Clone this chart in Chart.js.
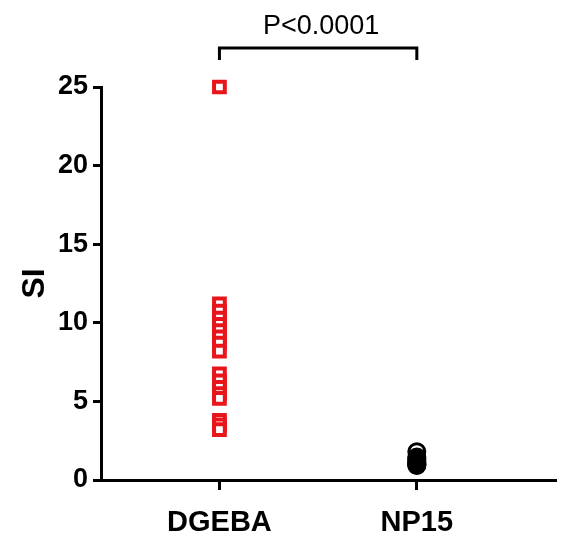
<!DOCTYPE html>
<html>
<head>
<meta charset="utf-8">
<script src="https://cdn.jsdelivr.net/npm/chart.js@4/dist/chart.umd.min.js"></script>
<style>
  html, body { margin: 0; padding: 0; background: #fff; }
  #wrap { width: 574px; height: 542px; }
</style>
</head>
<body>
<div id="wrap"><canvas id="c" width="574" height="542"></canvas></div>
<script>
const categories = ["DGEBA", "NP15"];
const dgebaValues = [25.0, 11.2, 10.75, 10.3, 9.9, 9.5, 9.1, 8.7, 8.2, 6.75, 6.3, 5.9, 5.5, 5.2, 3.8, 3.5, 3.2];
const np15Values = [1.8, 1.46, 1.35, 1.25, 1.15, 1.05, 1.0, 0.95, 0.92];
const yTicks = [0, 5, 10, 15, 20, 25];
const pLabel = "P<0.0001";
const yTitle = "SI";

const FONT = "'Liberation Sans', Arial, sans-serif";

const bracketPlugin = {
  id: 'bracket',
  afterDraw(chart) {
    const ctx = chart.ctx;
    const xs = chart.scales.x;
    const x1 = xs.getPixelForValue(1);
    const x2 = xs.getPixelForValue(2);
    const yLine = 48;
    const yEnd = 60;
    ctx.save();
    ctx.strokeStyle = '#000';
    ctx.lineWidth = 3;
    ctx.lineCap = 'butt';
    ctx.beginPath();
    ctx.moveTo(x1, yEnd);
    ctx.lineTo(x1, yLine);
    ctx.lineTo(x2, yLine);
    ctx.lineTo(x2, yEnd);
    ctx.stroke();
    ctx.fillStyle = '#000';
    ctx.font = "27px " + FONT;
    ctx.textAlign = 'center';
    ctx.textBaseline = 'alphabetic';
    ctx.fillText(pLabel, (x1 + x2) / 2 + 3, 34);
    ctx.restore();
  }
};

new Chart(document.getElementById('c'), {
  type: 'scatter',
  data: {
    datasets: [
      {
        label: categories[0],
        data: dgebaValues.map(v => ({ x: 1, y: v })),
        pointStyle: 'rect',
        pointRadius: 7.6,
        pointBorderWidth: 4,
        pointBorderColor: '#e8151b',
        pointBackgroundColor: '#ffffff',
        clip: false
      },
      {
        label: categories[1],
        data: np15Values.map(v => ({ x: 2, y: v })),
        pointStyle: 'circle',
        pointRadius: 8,
        pointBorderWidth: 3,
        pointBorderColor: '#000000',
        pointBackgroundColor: np15Values.map((v, i) => i === 0 ? '#ffffff' : '#000000'),
        clip: false
      }
    ]
  },
  options: {
    responsive: false,
    animation: false,
    devicePixelRatio: 1,
    layout: { padding: { top: 87, right: 19, left: 0, bottom: 0 } },
    plugins: { legend: { display: false }, tooltip: { enabled: false } },
    scales: {
      x: {
        type: 'linear',
        min: 0.4,
        max: 2.7,
        afterBuildTicks(scale) { scale.ticks = [{ value: 1 }, { value: 2 }]; },
        afterFit(scale) { scale.height = 62; },
        grid: { drawOnChartArea: false, drawTicks: true, tickLength: 10, color: '#000', lineWidth: 3 },
        border: { display: true, color: '#000', width: 3 },
        ticks: {
          color: '#000',
          font: { family: FONT, size: 29, weight: 'bold' },
          padding: 16,
          autoSkip: false,
          maxRotation: 0,
          callback: (v) => categories[Math.round(v) - 1] || ''
        }
      },
      y: {
        min: 0,
        max: 25,
        afterBuildTicks(scale) { scale.ticks = yTicks.map(v => ({ value: v })); },
        afterFit(scale) { scale.width = 101; },
        grid: { drawOnChartArea: false, drawTicks: true, tickLength: 8, color: '#000', lineWidth: 3 },
        border: { display: true, color: '#000', width: 3 },
        ticks: {
          color: '#000',
          font: { family: FONT, size: 27, weight: 'bold' },
          padding: 5
        },
        title: {
          display: true,
          text: yTitle,
          color: '#000',
          font: { family: FONT, size: 32, weight: 'bold' },
          padding: { top: 16, bottom: 0 }
        }
      }
    }
  },
  plugins: [bracketPlugin]
});
</script>
</body>
</html>
